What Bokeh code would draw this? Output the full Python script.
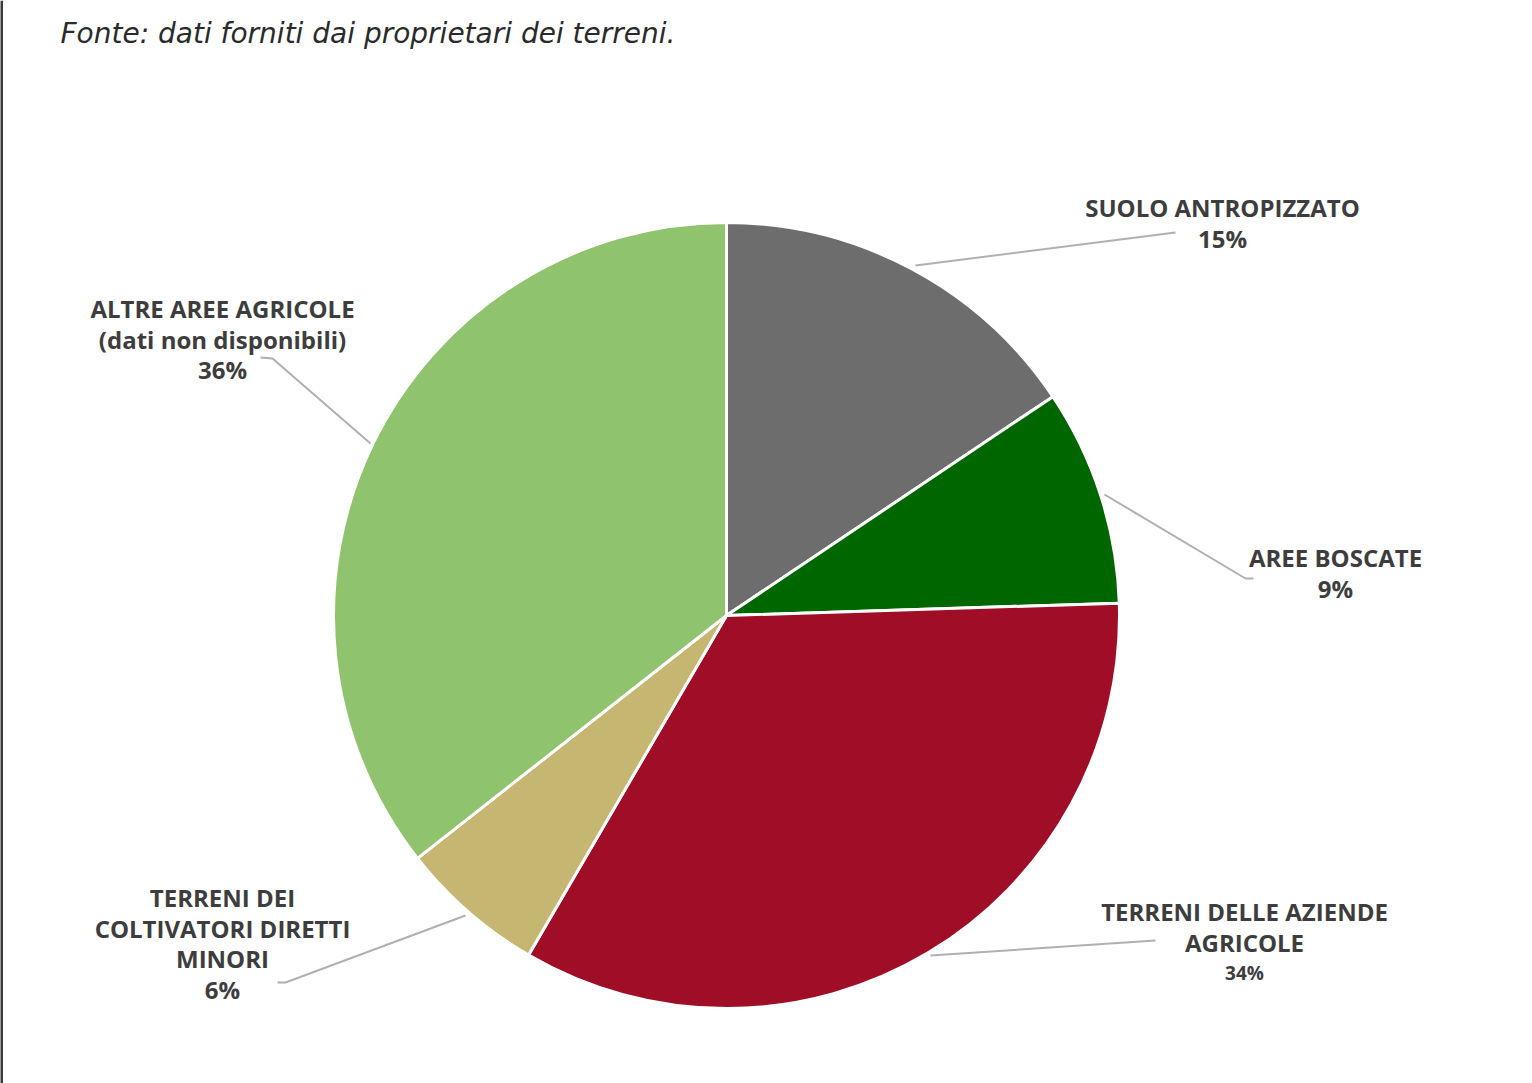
import numpy as np
from bokeh.plotting import figure
from bokeh.models import Range1d
from bokeh.core.properties import value
from bokeh.embed import file_html
from bokeh.resources import INLINE

# ---- data ----
categories = ["SUOLO ANTROPIZZATO", "AREE BOSCATE", "TERRENI DELLE AZIENDE AGRICOLE",
              "TERRENI DEI COLTIVATORI DIRETTI MINORI", "ALTRE AREE AGRICOLE (dati non disponibili)"]
values = [15.6, 8.9, 33.9, 6.0, 35.6]
pct_labels = ["15%", "9%", "34%", "6%", "36%"]
colors = ["#6d6d6d", "#006600", "#a00d27", "#c5b672", "#8fc36e"]
label_lines = [
    ["SUOLO ANTROPIZZATO"],
    ["AREE BOSCATE"],
    ["TERRENI DELLE AZIENDE", "AGRICOLE"],
    ["TERRENI DEI", "COLTIVATORI DIRETTI", "MINORI"],
    ["ALTRE AREE AGRICOLE", "(dati non disponibili)"],
]
title_text = "Fonte: dati forniti dai proprietari dei terreni."

# ---- layout (pixel space, y down) ----
W, H = 1532, 1083
cx, cy, R = 726, 615, 393
label_anchor = [(1222, 207), (1335, 557), (1244, 911), (222, 897), (222, 308)]
line_step = 30.5
leaders = [
    [(915, 265), (1175, 232)],
    [(1104, 494), (1245, 578), (1253, 578)],
    [(930, 955), (1155, 940)],
    [(465, 915), (285, 982), (277, 982)],
    [(370, 443), (272, 358), (260, 357)],
]

def Y(y):
    return H - y

p = figure(width=W, height=H, output_backend="svg", toolbar_location=None,
           x_range=Range1d(0, W), y_range=Range1d(0, H), min_border=0)
p.axis.visible = False
p.grid.visible = False
p.outline_line_color = None
p.background_fill_color = "white"
p.border_fill_color = "white"

# wedges
frac = np.array(values) / sum(values)
cum = np.concatenate([[0], np.cumsum(frac)])
start = np.pi / 2 - 2 * np.pi * cum[1:]
end = np.pi / 2 - 2 * np.pi * cum[:-1]
p.wedge(x=[cx] * len(values), y=[Y(cy)] * len(values), radius=R,
        start_angle=list(start), end_angle=list(end), direction="anticlock",
        fill_color=colors, line_color="white", line_width=3)

# leader lines
for pts in leaders:
    p.line([q[0] for q in pts], [Y(q[1]) for q in pts], line_color="#b0b0b0", line_width=2)

# labels
for i, lines in enumerate(label_lines):
    ax, ay = label_anchor[i]
    xs = [ax] * len(lines)
    ys = [Y(ay + k * line_step) for k in range(len(lines))]
    p.text(x=xs, y=ys, text=lines, text_align="center", text_baseline="middle",
           text_font=value("Open Sans"), text_font_style="bold", text_font_size="24px",
           text_color="#3d3d3d")
    py = Y(ay + len(lines) * line_step)
    small = (i == 2)
    p.text(x=[ax], y=[py], text=[pct_labels[i]], text_align="center", text_baseline="middle",
           text_font=value("Open Sans"), text_font_style="bold",
           text_font_size="19px" if small else "24px", text_color="#3d3d3d")

# title
p.text(x=[60], y=[Y(33)], text=[title_text], text_align="left", text_baseline="middle",
       text_font=value("DejaVu Sans"), text_font_style="italic", text_font_size="28px",
       text_color="#2a2a2a")

# left border
p.line([1, 1], [0, H], line_color="#3a3a3a", line_width=3)

open("out.html", "w").write(file_html(p, INLINE))
